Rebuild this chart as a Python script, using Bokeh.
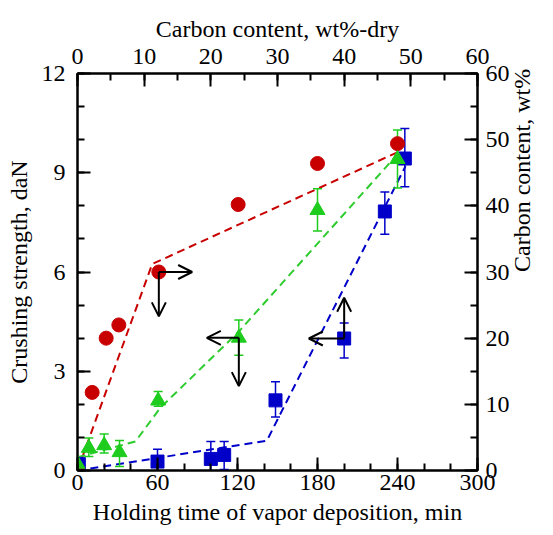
import math
from bokeh.plotting import figure
from bokeh.models import Range1d, LinearAxis, FixedTicker, Arrow, OpenHead, ColumnDataSource
from bokeh.embed import file_html
from bokeh.resources import INLINE

# ---------------- data ----------------
# Red circles: carbon content (right axis, wt%) vs holding time (bottom axis, min)
red_time = [0, 11, 21.5, 31, 61, 120.5, 180, 240]
red_carbon = [0, 11.8, 20.0, 22.0, 30.0, 40.2, 46.4, 49.4]

# Green triangles: crushing strength (left axis, daN) vs holding time (bottom axis, min)
green_time = [0, 8.5, 20, 31.5, 60.5, 121, 180, 240]
green_strength = [0.2, 0.68, 0.76, 0.55, 2.11, 4.01, 7.87, 9.41]
green_upper = [0.2, 0.98, 1.10, 0.91, 2.39, 4.55, 8.52, 10.29]
green_lower = [0.2, 0.42, 0.53, 0.12, 1.94, 3.48, 7.24, 8.54]

# Blue squares: crushing strength (left axis, daN) vs carbon content dry (top axis, wt%)
blue_carbon = [0.2, 12, 20, 22, 29.7, 40, 46.1, 49.1]
blue_strength = [0.2, 0.27, 0.35, 0.47, 2.12, 3.99, 7.83, 9.43]
blue_upper = [0.2, 0.64, 0.88, 0.88, 2.68, 4.46, 8.42, 10.34]
blue_lower = [0.2, -0.30, -0.12, 0.03, 1.62, 3.40, 7.14, 8.58]

# Dashed trend lines
red_line_time = [0, 56, 240]
red_line_carbon = [0, 31.2, 48.1]
green_line_time = [0, 43.5, 62, 121, 240]
green_line_strength = [0.4, 0.88, 1.89, 4.2, 9.56]
blue_line_carbon = [0, 28.4, 49.2]
blue_line_strength = [0, 0.9, 9.2]

# Arrows (start point -> end point, in each series' own units)
red_arrow_x0 = [61, 61]
red_arrow_y0 = [30.0, 30.0]
red_arrow_x1 = [86, 61]
red_arrow_y1 = [30.0, 23.3]
green_arrow_x0 = [121, 121]
green_arrow_y0 = [4.01, 4.01]
green_arrow_x1 = [97, 121]
green_arrow_y1 = [4.01, 2.55]
blue_arrow_x0 = [40, 40]
blue_arrow_y0 = [3.99, 3.99]
blue_arrow_x1 = [34.7, 40]
blue_arrow_y1 = [3.99, 5.22]

# Axis ticks
time_ticks = [0, 60, 120, 180, 240, 300]
time_minor = list(range(0, 301, 20))
strength_ticks = [0, 3, 6, 9, 12]
strength_minor = list(range(0, 13, 1))
carbon_ticks = [0, 10, 20, 30, 40, 50, 60]
carbon_minor = list(range(0, 61, 5))

# Axis titles
bottom_title = "Holding time of vapor deposition, min"
top_title = "Carbon content, wt%-dry"
left_title = "Crushing strength, daN"
right_title = "Carbon content, wt%"

RED = "#c80000"
GREEN = "#1ecc1e"
GREEN_LINE = "#2fcc2f"
BLUE = "#0000c8"
FONT = "Liberation Serif"

p = figure(width=553, height=535, output_backend="svg", toolbar_location=None,
           x_range=Range1d(0, 300), y_range=Range1d(0, 12),
           min_border_left=77, min_border_right=76, min_border_top=73, min_border_bottom=65,
           background_fill_color="white", border_fill_color="white")
p.extra_x_ranges = {"cx": Range1d(0, 60)}
p.extra_y_ranges = {"cy": Range1d(0, 60)}
p.xgrid.visible = False
p.ygrid.visible = False
p.outline_line_color = "black"
p.outline_line_width = 2

bottom_axis = p.below[0]
left_axis = p.left[0]
top_axis = LinearAxis(x_range_name="cx")
right_axis = LinearAxis(y_range_name="cy")
p.add_layout(top_axis, "above")
p.add_layout(right_axis, "right")


def style(ax, ticks, minor, standoff, label, label_standoff):
    ax.ticker = FixedTicker(ticks=ticks, minor_ticks=minor)
    ax.major_tick_in = 13
    ax.major_tick_out = 0
    ax.minor_tick_in = 7
    ax.minor_tick_out = 0
    ax.axis_line_width = 2
    ax.major_tick_line_width = 2
    ax.minor_tick_line_width = 2
    ax.axis_line_color = "black"
    ax.major_tick_line_color = "black"
    ax.minor_tick_line_color = "black"
    ax.major_label_text_font = FONT
    ax.major_label_text_font_size = "24px"
    ax.major_label_text_color = "black"
    ax.major_label_standoff = standoff
    ax.axis_label = label
    ax.axis_label_text_font = FONT
    ax.axis_label_text_font_size = "24px"
    ax.axis_label_text_font_style = "normal"
    ax.axis_label_text_color = "black"
    ax.axis_label_standoff = label_standoff


style(bottom_axis, time_ticks, time_minor, 4, bottom_title, 6)
style(left_axis, strength_ticks, strength_minor, 12, left_title, 7)
style(top_axis, carbon_ticks, carbon_minor, 10, top_title, 4)
style(right_axis, carbon_ticks, carbon_minor, 8, right_title, 9)

# right-axis title reads bottom-to-top, like the left one
if "axis_label_orientation" in type(right_axis).properties():
    right_axis.axis_label_orientation = math.pi / 2

dash = "8 5"
# trend lines
p.line(red_line_time, red_line_carbon, y_range_name="cy", line_color=RED, line_width=2, line_dash=dash)
p.line(green_line_time, green_line_strength, line_color=GREEN_LINE, line_width=2, line_dash=dash)
p.line(blue_line_carbon, blue_line_strength, x_range_name="cx", line_color=BLUE, line_width=2, line_dash=dash)

# blue error bars and squares
p.segment(blue_carbon, blue_lower, blue_carbon, blue_upper, x_range_name="cx", line_color=BLUE, line_width=1.5)
p.scatter(blue_carbon, blue_upper, x_range_name="cx", marker="dash", size=9, line_color=BLUE, line_width=1.5)
p.scatter(blue_carbon, blue_lower, x_range_name="cx", marker="dash", size=9, line_color=BLUE, line_width=1.5)
p.scatter(blue_carbon, blue_strength, x_range_name="cx", marker="square", size=13,
          fill_color=BLUE, line_color=BLUE)

# green error bars
p.segment(green_time, green_lower, green_time, green_upper, line_color=GREEN, line_width=1.5)
p.scatter(green_time, green_upper, marker="dash", size=9, line_color=GREEN, line_width=1.5)
p.scatter(green_time, green_lower, marker="dash", size=9, line_color=GREEN, line_width=1.5)

# red circles
p.scatter(red_time, red_carbon, y_range_name="cy", marker="circle", size=14,
          fill_color=RED, line_color=RED)

# green triangles
p.scatter(green_time, green_strength, marker="triangle", size=15, fill_color=GREEN, line_color=GREEN)


def arrows(x0, y0, x1, y1, **kw):
    src = ColumnDataSource(dict(x0=x0, y0=y0, x1=x1, y1=y1))
    p.add_layout(Arrow(source=src, x_start="x0", y_start="y0", x_end="x1", y_end="y1",
                       line_color="black", line_width=2,
                       end=OpenHead(size=14, line_width=2, line_color="black"), **kw))


arrows(red_arrow_x0, red_arrow_y0, red_arrow_x1, red_arrow_y1, y_range_name="cy")
arrows(green_arrow_x0, green_arrow_y0, green_arrow_x1, green_arrow_y1)
arrows(blue_arrow_x0, blue_arrow_y0, blue_arrow_x1, blue_arrow_y1, x_range_name="cx")

open("out.html", "w").write(file_html(p, INLINE))
